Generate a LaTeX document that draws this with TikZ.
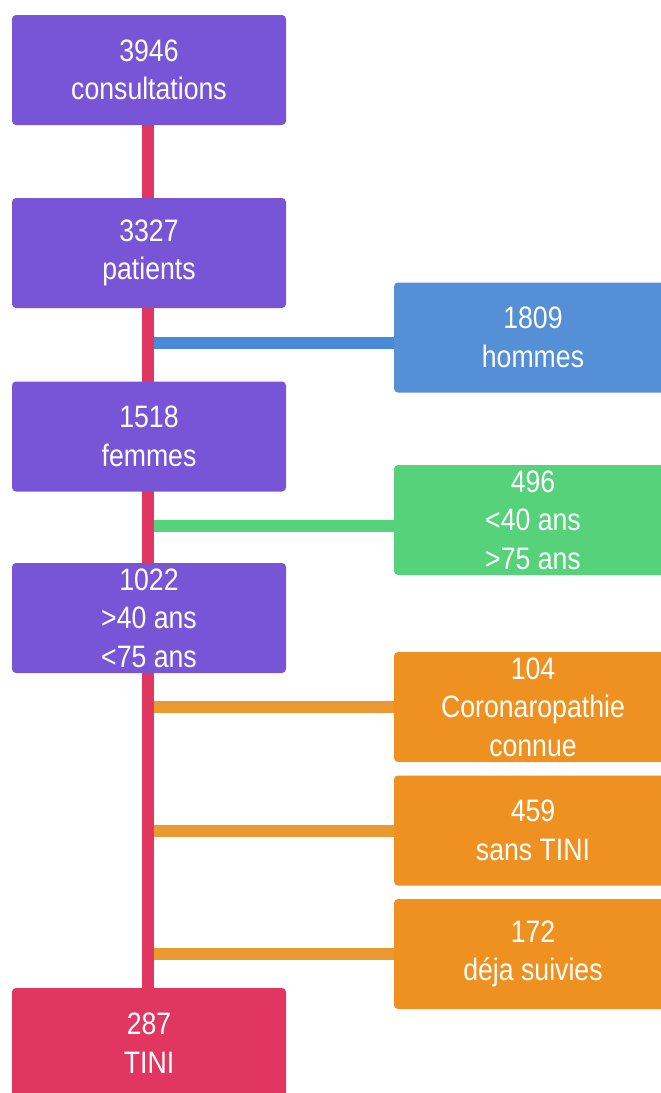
\documentclass[tikz,border=0pt]{standalone}
\usepackage{fontspec}
\setmainfont{Liberation Sans}[FakeStretch=0.86]
\usetikzlibrary{backgrounds}
\definecolor{cpurple}{RGB}{120,84,214}
\definecolor{cblue}{RGB}{85,143,214}
\definecolor{cblueline}{RGB}{74,136,216}
\definecolor{cgreen}{RGB}{85,210,122}
\definecolor{corange}{RGB}{238,145,32}
\definecolor{corangeline}{RGB}{234,152,48}
\definecolor{cred}{RGB}{224,54,95}
\tikzset{
  box/.style={rounded corners=4pt, minimum height=110pt, text=white,
    align=center, inner sep=0pt, font=\fontsize{31}{38.5}\selectfont},
  leftbox/.style={box, minimum width=274pt, fill=cpurple},
  rightbox/.style={box, minimum width=278pt},
  spine/.style={line width=12pt, cred},
  branch/.style={line width=12pt},
}
\begin{document}
\begin{tikzpicture}[x=1pt, y=-1pt]
  \clip (0,0) rectangle (661,1093);

  % main column
  \node[leftbox] (c) at (149,70) {3946\\consultations};
  \node[leftbox] (p) at (149,253) {3327\\patients};
  \node[leftbox] (f) at (149,436.5) {1518\\femmes};
  \node[leftbox] (a) at (149,618) {1022\\>40 ans\\<75 ans};
  \node[leftbox, fill=cred] (t) at (149,1043) {287\\TINI};

  % excluded groups
  \node[rightbox, fill=cblue] (h) at (533,337.5) {1809\\hommes};
  \node[rightbox, fill=cgreen] (g) at (533,520) {496\\<40 ans\\>75 ans};
  \node[rightbox, fill=corange] (o1) at (533,707) {104\\Coronaropathie\\connue};
  \node[rightbox, fill=corange] (o2) at (533,830.5) {459\\sans TINI};
  \node[rightbox, fill=corange] (o3) at (533,954) {172\\déja suivies};

  \begin{pgfonlayer}{background}
    \fill[white] (0,0) rectangle (661,1093);
    % side branches, under the spine
    \draw[branch, cblueline] ([yshift=-5.5pt]h.west) -- ([yshift=-5.5pt]h.west -| p.south);
    \draw[branch, cgreen] ([yshift=-6pt]g.west) -- ([yshift=-6pt]g.west -| f.south);
    \draw[branch, corangeline] (o1.west) -- (o1.west -| a.south);
    \draw[branch, corangeline] (o2.west) -- (o2.west -| a.south);
    \draw[branch, corangeline] (o3.west) -- (o3.west -| a.south);
    % main spine
    \draw[spine] ([xshift=-1pt]c.south) -- ([xshift=-1pt]t.north);
  \end{pgfonlayer}
\end{tikzpicture}
\end{document}
